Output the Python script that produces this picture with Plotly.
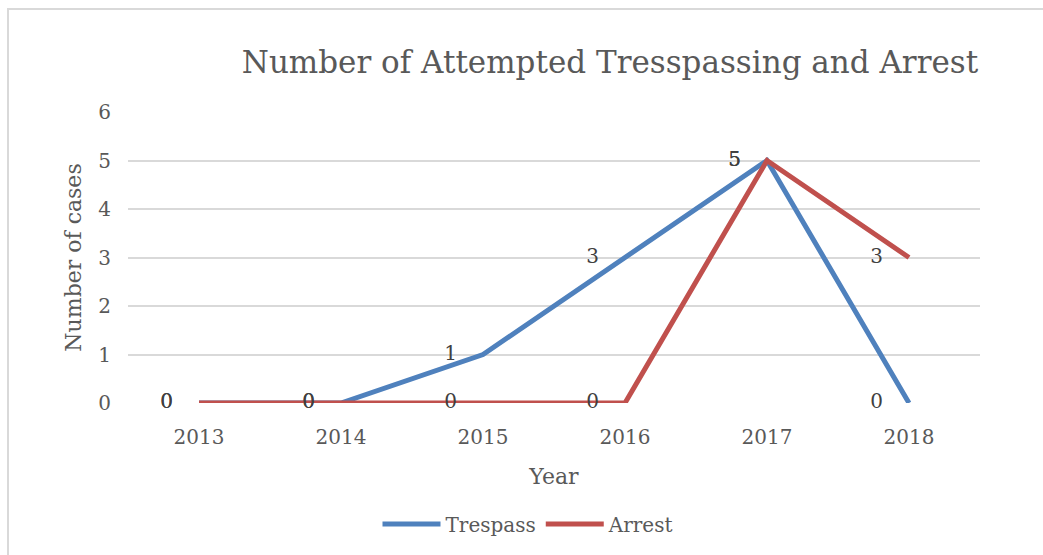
import plotly.graph_objects as go

# Yearly counts
years = ["2013", "2014", "2015", "2016", "2017", "2018"]
trespass = [0, 0, 1, 3, 5, 0]
arrest = [0, 0, 0, 0, 5, 3]

y_ticks = [0, 1, 2, 3, 4, 5, 6]

BLUE = "#4F81BD"
RED = "#C0504D"
TEXT = "#595959"
LABEL = "#404040"
GRID = "#D9D9D9"
FONT = "DejaVu Serif"

fig = go.Figure()

series = [("Trespass", trespass, BLUE), ("Arrest", arrest, RED)]

# Lines
for name, vals, color in series:
    fig.add_trace(go.Scatter(
        x=years, y=vals, name=name, mode="lines",
        line=dict(color=color, width=5),
        cliponaxis=False, hoverinfo="x+y+name",
    ))

# Value labels, set off to the left of each point by a transparent marker
for name, vals, color in series:
    fig.add_trace(go.Scatter(
        x=years, y=vals, mode="markers+text", showlegend=False,
        marker=dict(size=40, color="rgba(0,0,0,0)"),
        text=[str(v) for v in vals],
        textposition="middle left",
        textfont=dict(family=FONT, size=20, color=LABEL),
        cliponaxis=False, hoverinfo="skip",
    ))

fig.update_layout(
    width=1043, height=555,
    margin=dict(l=128, r=63, t=112, b=152),
    paper_bgcolor="white", plot_bgcolor="white",
    font=dict(family=FONT, color=TEXT),
    title=dict(
        text="Number of Attempted Tresspassing and Arrest",
        x=610 / 1043, xanchor="center", xref="container",
        y=1 - 62 / 555, yanchor="middle", yref="container",
        font=dict(family=FONT, size=31, color=TEXT),
    ),
    xaxis=dict(
        type="category", range=[-0.5, 5.5],
        showgrid=False, zeroline=False, showline=False,
        ticks="", ticklabelstandoff=20,
        tickfont=dict(family=FONT, size=20, color=TEXT),
        title=dict(text="Year", standoff=20, font=dict(family=FONT, size=22, color=TEXT)),
    ),
    yaxis=dict(
        range=[0, 6], tickvals=y_ticks,
        showgrid=True, gridcolor=GRID, gridwidth=1.5,
        zeroline=False, showline=False,
        ticks="", ticklabelstandoff=16,
        tickfont=dict(family=FONT, size=20, color=TEXT),
        title=dict(text="Number of cases", standoff=10, font=dict(family=FONT, size=22, color=TEXT)),
    ),
    legend=dict(
        orientation="h", x=(528 - 128) / 852, xanchor="center",
        y=(403 - 524) / 291, yanchor="middle",
        font=dict(family=FONT, size=20, color=TEXT),
        itemwidth=58, tracegroupgap=0,
    ),
    shapes=[dict(
        type="rect", xref="paper", yref="paper",
        x0=(8 - 128) / 852, x1=(1060 - 128) / 852,
        y0=(403 - 570) / 291, y1=(403 - 9) / 291,
        line=dict(color=GRID, width=2), layer="below",
    )],
)

fig.write_html("out.html")
